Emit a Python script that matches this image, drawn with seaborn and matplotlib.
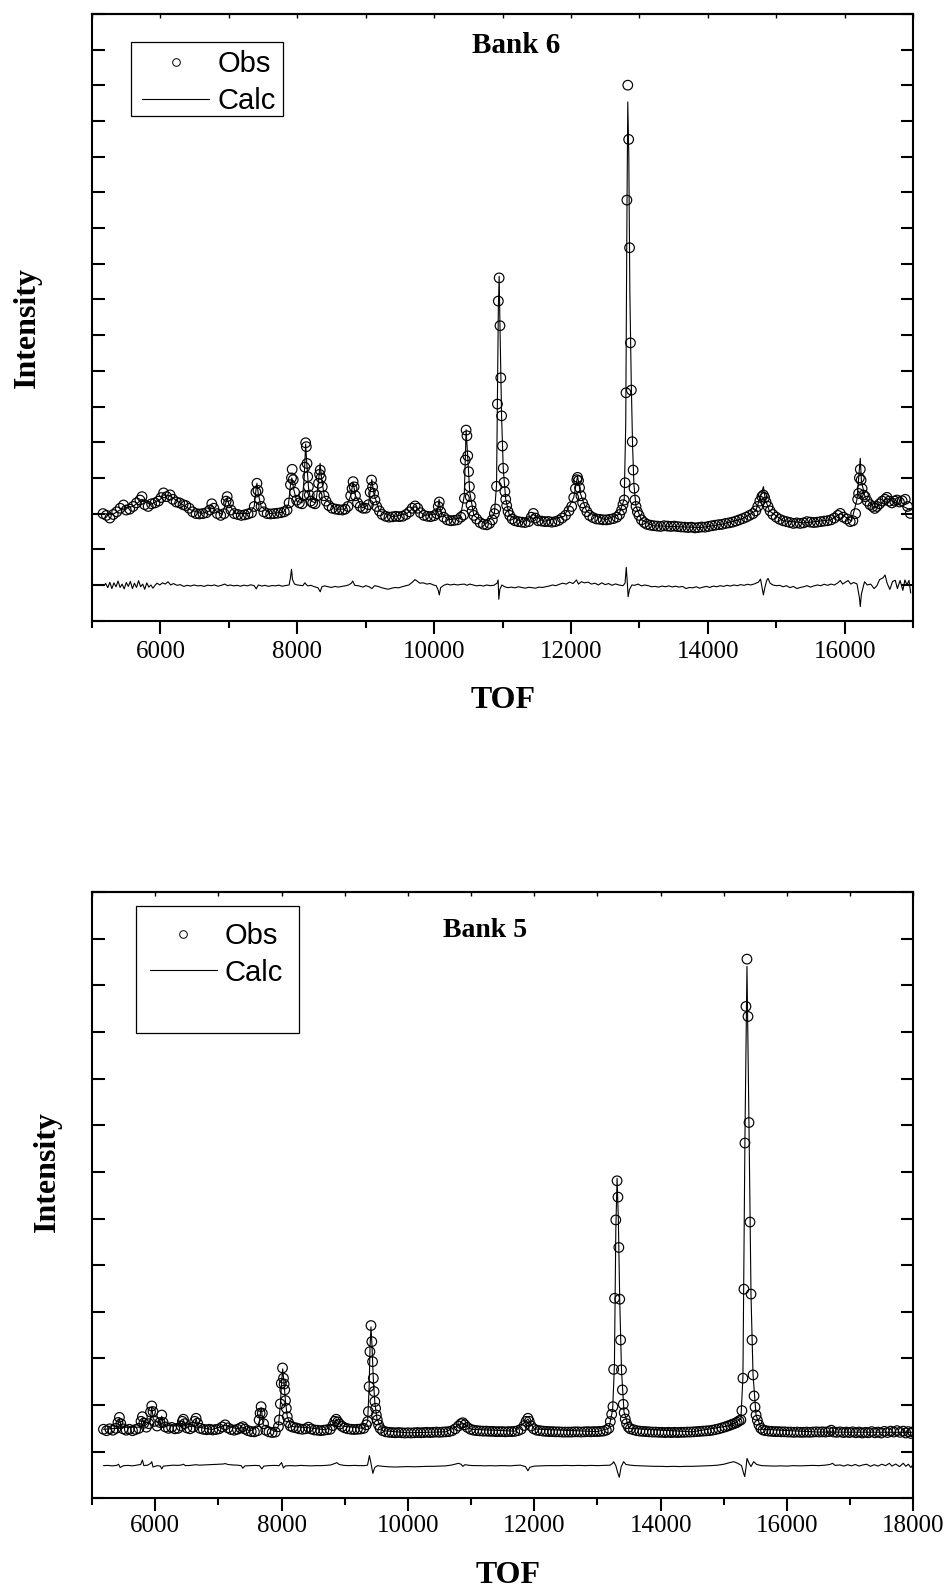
import pandas as pd
import matplotlib
matplotlib.use('Agg')
import matplotlib.pyplot as plt
from matplotlib.lines import Line2D
from matplotlib.patches import Rectangle
from matplotlib.ticker import MultipleLocator
import seaborn as sns

sns.set_style('ticks', {'axes.edgecolor': 'black', 'xtick.color': 'black', 'ytick.color': 'black',
                        'text.color': 'black', 'axes.labelcolor': 'black'})
plt.rcParams['font.family'] = ['Liberation Serif', 'DejaVu Serif']

# ---------------- Bank 6 (top panel) ----------------
tof6 = [5160, 5210, 5260, 5310, 5360, 5410, 5460, 5500, 5550, 5600,
        5650, 5700, 5730, 5770, 5820, 5870, 5920, 5970, 6010, 6045,
        6090, 6140, 6180, 6230, 6280, 6330, 6370, 6420, 6470, 6520,
        6570, 6620, 6670, 6720, 6750, 6780, 6830, 6880, 6930, 6960,
        6975, 6995, 7030, 7080, 7130, 7180, 7230, 7280, 7330, 7370,
        7395, 7410, 7425, 7445, 7470, 7510, 7560, 7610, 7660, 7710,
        7760, 7810, 7850, 7880, 7900, 7915, 7925, 7940, 7960, 7990,
        8030, 8070, 8095, 8110, 8122, 8132, 8142, 8152, 8162, 8175,
        8195, 8225, 8260, 8290, 8310, 8325, 8335, 8348, 8365, 8390,
        8420, 8460, 8510, 8560, 8610, 8660, 8700, 8740, 8780, 8800,
        8815, 8830, 8850, 8880, 8920, 8960, 9000, 9040, 9065, 9085,
        9100, 9115, 9135, 9160, 9200, 9240, 9290, 9340, 9390, 9440,
        9490, 9540, 9590, 9640, 9680, 9722, 9760, 9800, 9850, 9900,
        9950, 10000, 10040, 10060, 10075, 10095, 10140, 10190, 10240, 10290,
        10340, 10390, 10430, 10443, 10455, 10467, 10479, 10491, 10503, 10515,
        10527, 10539, 10555, 10580, 10620, 10670, 10720, 10770, 10810, 10850,
        10880, 10900, 10912, 10925, 10938, 10950, 10962, 10974, 10986, 10998,
        11010, 11022, 11034, 11046, 11060, 11080, 11105, 11140, 11180, 11230,
        11280, 11330, 11380, 11420, 11450, 11480, 11520, 11570, 11620, 11670,
        11720, 11770, 11820, 11870, 11920, 11970, 12010, 12040, 12065, 12085,
        12096, 12110, 12125, 12145, 12170, 12200, 12232, 12270, 12320, 12370,
        12420, 12470, 12520, 12570, 12620, 12670, 12710, 12740, 12760, 12778,
        12791, 12804, 12817, 12830, 12843, 12856, 12869, 12882, 12895, 12908,
        12921, 12934, 12950, 12970, 12995, 13030, 13070, 13110, 13160, 13210,
        13260, 13310, 13360, 13410, 13460, 13510, 13560, 13610, 13660, 13710,
        13760, 13810, 13860, 13910, 13960, 14010, 14060, 14110, 14160, 14210,
        14260, 14310, 14360, 14410, 14460, 14510, 14560, 14610, 14660, 14700,
        14730, 14760, 14790, 14812, 14830, 14850, 14880, 14910, 14950, 15000,
        15050, 15100, 15150, 15200, 15250, 15300, 15350, 15400, 15450, 15500,
        15550, 15600, 15650, 15700, 15750, 15800, 15850, 15900, 15936, 15980,
        16030, 16081, 16120, 16160, 16190, 16203, 16215, 16228, 16240, 16255,
        16275, 16300, 16330, 16370, 16410, 16440, 16471, 16510, 16550, 16590,
        16618, 16650, 16690, 16730, 16764, 16800, 16840, 16885, 16920, 16959]
obs6 = [600, 590, 575, 595, 610, 630, 648, 620, 625, 640,
        660, 676, 695, 650, 640, 655, 660, 670, 690, 716,
        695, 705, 680, 665, 660, 650, 645, 630, 610, 600,
        598, 600, 605, 620, 655, 630, 600, 590, 600, 670,
        695, 660, 620, 600, 595, 590, 593, 598, 605, 640,
        720, 770, 730, 680, 640, 610, 600, 598, 600, 602,
        605, 610, 620, 660, 762, 800, 848, 790, 720, 675,
        660, 655, 700, 860, 997, 975, 881, 807, 750, 704,
        670, 660, 655, 700, 770, 820, 844, 800, 750, 700,
        670, 645, 630, 625, 622, 620, 625, 640, 700, 740,
        779, 750, 700, 660, 640, 630, 630, 650, 720, 788,
        750, 713, 676, 640, 615, 595, 585, 580, 582, 585,
        583, 585, 595, 610, 630, 643, 630, 605, 590, 585,
        583, 588, 600, 640, 665, 610, 580, 565, 560, 562,
        565, 580, 592, 686, 900, 1068, 1036, 924, 835, 751,
        695, 648, 615, 590, 570, 550, 540, 537, 545, 565,
        600, 626, 753, 1214, 1791, 1921, 1653, 1361, 1148, 979,
        854, 775, 723, 680, 645, 612, 590, 570, 560, 555,
        552, 550, 555, 580, 601, 575, 560, 558, 555, 556,
        552, 555, 562, 575, 590, 615, 640, 690, 740, 790,
        803, 785, 745, 700, 660, 635, 611, 590, 578, 570,
        568, 565, 565, 568, 572, 580, 595, 620, 650, 676,
        773, 1277, 2357, 3001, 2697, 2090, 1557, 1292, 1003, 844,
        742, 676, 640, 610, 590, 565, 550, 540, 535, 532,
        530, 528, 532, 530, 528, 530, 527, 525, 524, 522,
        524, 520, 522, 525, 524, 528, 532, 535, 538, 540,
        545, 548, 552, 558, 565, 572, 580, 590, 600, 615,
        640, 670, 695, 704, 690, 665, 640, 615, 595, 580,
        568, 560, 555, 550, 545, 548, 545, 548, 555, 552,
        550, 552, 555, 558, 560, 565, 575, 590, 601, 580,
        570, 555, 560, 600, 680, 713, 800, 848, 788, 740,
        704, 695, 670, 650, 640, 629, 640, 655, 670, 680,
        691, 670, 660, 670, 676, 665, 672, 680, 640, 601]

calc6_tof = [5160, 5300, 5450, 5600, 5730, 5850, 6000, 6045, 6140, 6300,
             6450, 6600, 6720, 6750, 6790, 6900, 6960, 6975, 7000, 7100,
             7300, 7370, 7395, 7410, 7430, 7470, 7600, 7800, 7870, 7900,
             7920, 7945, 7990, 8070, 8100, 8122, 8140, 8165, 8200, 8270,
             8310, 8333, 8355, 8400, 8550, 8700, 8780, 8815, 8850, 8950,
             9040, 9088, 9120, 9200, 9400, 9600, 9722, 9850, 10040, 10072,
             10095, 10200, 10380, 10440, 10467, 10490, 10520, 10580, 10750, 10880,
             10912, 10938, 10950, 10962, 10986, 11010, 11046, 11100, 11300, 11450,
             11600, 11900, 12040, 12096, 12140, 12232, 12500, 12700, 12778, 12800,
             12818, 12830, 12845, 12860, 12880, 12900, 12920, 12950, 13030, 13200,
             13600, 13900, 14200, 14500, 14700, 14790, 14812, 14840, 14900, 15100,
             15400, 15800, 15936, 16100, 16180, 16215, 16228, 16245, 16300, 16440,
             16618, 16960]
calc6 = [600, 595, 630, 640, 680, 650, 680, 705, 700, 655,
         620, 600, 615, 650, 620, 595, 665, 690, 650, 600,
         600, 640, 730, 770, 710, 640, 600, 608, 650, 760,
         800, 740, 670, 660, 800, 990, 870, 740, 670, 660,
         780, 882, 790, 690, 625, 625, 700, 775, 700, 632,
         650, 790, 710, 615, 582, 600, 640, 590, 598, 680,
         610, 565, 575, 700, 1070, 920, 720, 590, 540, 600,
         760, 1750, 1930, 1650, 1140, 850, 680, 590, 550, 595,
         556, 585, 690, 810, 710, 610, 565, 595, 680, 1100,
         2300, 2907, 2600, 1850, 1350, 980, 760, 640, 565, 532,
         526, 522, 540, 570, 615, 720, 751, 680, 615, 560,
         548, 565, 600, 558, 680, 850, 910, 780, 690, 630,
         685, 620]

diff6_tof = [5170, 5200, 5230, 5260, 5290, 5320, 5350, 5380, 5410, 5440,
             5470, 5500, 5530, 5560, 5590, 5620, 5650, 5680, 5710, 5740,
             5770, 5800, 5830, 5860, 5890, 5920, 5950, 5990, 6030, 6070,
             6110, 6150, 6190, 6240, 6290, 6340, 6390, 6440, 6490, 6540,
             6590, 6640, 6690, 6740, 6790, 6840, 6890, 6940, 6980, 7020,
             7070, 7120, 7170, 7220, 7270, 7320, 7370, 7400, 7430, 7480,
             7530, 7580, 7630, 7680, 7730, 7780, 7830, 7880, 7900, 7915,
             7930, 7960, 8000, 8040, 8080, 8110, 8125, 8150, 8200, 8250,
             8300, 8335, 8360, 8400, 8450, 8500, 8550, 8600, 8650, 8700,
             8750, 8790, 8810, 8840, 8900, 8960, 9000, 9050, 9090, 9130,
             9180, 9230, 9280, 9330, 9380, 9430, 9480, 9530, 9580, 9630,
             9680, 9720, 9750, 9790, 9840, 9890, 9940, 9990, 10030, 10060,
             10075, 10095, 10140, 10190, 10240, 10290, 10340, 10390, 10440, 10480,
             10520, 10570, 10620, 10670, 10720, 10770, 10820, 10870, 10920, 10935,
             10945, 10960, 10990, 11030, 11080, 11130, 11180, 11230, 11280, 11330,
             11380, 11430, 11480, 11530, 11580, 11630, 11680, 11730, 11780, 11830,
             11880, 11930, 11980, 12030, 12080, 12110, 12150, 12200, 12250, 12300,
             12350, 12400, 12450, 12500, 12550, 12600, 12650, 12700, 12760, 12790,
             12808, 12822, 12835, 12855, 12890, 12930, 12980, 13030, 13080, 13130,
             13180, 13230, 13280, 13330, 13380, 13430, 13480, 13530, 13580, 13630,
             13680, 13730, 13780, 13830, 13880, 13930, 13980, 14030, 14080, 14130,
             14180, 14230, 14280, 14330, 14380, 14430, 14480, 14530, 14580, 14630,
             14680, 14740, 14770, 14790, 14812, 14830, 14860, 14880, 14910, 14950,
             15000, 15050, 15100, 15150, 15200, 15250, 15300, 15350, 15400, 15450,
             15500, 15550, 15600, 15650, 15700, 15750, 15800, 15850, 15900, 15936,
             15970, 16010, 16050, 16090, 16130, 16180, 16215, 16228, 16245, 16290,
             16330, 16380, 16430, 16470, 16510, 16560, 16590, 16620, 16660, 16700,
             16740, 16770, 16810, 16850, 16880, 16910, 16940, 16965]
diff6 = [196, 208, 185, 215, 180, 212, 190, 222, 186, 205,
         178, 214, 192, 220, 180, 210, 186, 224, 190, 205,
         176, 212, 188, 200, 182, 198, 210, 200, 212, 205,
         218, 200, 208, 198, 202, 192, 198, 194, 200, 195,
         197, 192, 199, 196, 200, 193, 198, 205, 196, 200,
         195, 198, 193, 199, 195, 201, 196, 178, 200, 194,
         198, 192, 197, 195, 199, 193, 197, 200, 240, 288,
         230, 205, 200, 198, 196, 212, 205, 195, 198, 190,
         185, 162, 190, 195, 190, 186, 192, 188, 192, 195,
         200, 210, 222, 198, 195, 188, 196, 190, 180, 196,
         192, 185, 180, 176, 182, 186, 184, 190, 195, 200,
         215, 230, 222, 210, 212, 205, 208, 200, 196, 170,
         144, 185, 198, 205, 200, 204, 200, 203, 205, 198,
         205, 200, 195, 198, 194, 200, 196, 198, 210, 228,
         120, 175, 200, 190, 185, 188, 184, 190, 186, 182,
         187, 185, 182, 188, 186, 190, 194, 200, 196, 204,
         210, 205, 216, 208, 228, 205, 218, 212, 216, 205,
         210, 200, 212, 202, 208, 198, 206, 200, 196, 210,
         299, 220, 134, 175, 200, 198, 205, 195, 200, 196,
         190, 192, 188, 194, 190, 195, 189, 193, 188, 192,
         180, 186, 184, 190, 182, 188, 192, 186, 194, 190,
         196, 192, 198, 194, 200, 196, 202, 198, 204, 200,
         206, 216, 233, 190, 144, 180, 225, 237, 210, 200,
         196, 198, 190, 196, 185, 192, 180, 186, 190, 196,
         188, 195, 200, 196, 204, 198, 205, 200, 212, 225,
         205, 215, 225, 205, 214, 206, 130, 79, 150, 218,
         200, 205, 180, 195, 230, 240, 256, 210, 175, 220,
         226, 180, 225, 170, 228, 200, 226, 155]

# ---------------- Bank 5 (bottom panel) ----------------
tof5 = [5180, 5230, 5280, 5330, 5380, 5410, 5433, 5455, 5490, 5540,
        5590, 5640, 5690, 5740, 5775, 5797, 5820, 5860, 5900, 5925,
        5945, 5965, 5990, 6030, 6075, 6103, 6125, 6160, 6210, 6260,
        6310, 6360, 6410, 6430, 6446, 6465, 6500, 6550, 6600, 6625,
        6647, 6670, 6710, 6760, 6810, 6860, 6910, 6960, 7010, 7060,
        7106, 7150, 7200, 7250, 7300, 7350, 7386, 7420, 7470, 7520,
        7570, 7620, 7645, 7660, 7676, 7695, 7715, 7750, 7800, 7850,
        7900, 7950, 7965, 7980, 7995, 8015, 8030, 8040, 8050, 8062,
        8075, 8090, 8110, 8140, 8180, 8230, 8280, 8330, 8380, 8425,
        8470, 8520, 8570, 8620, 8670, 8720, 8770, 8810, 8840, 8864,
        8890, 8920, 8960, 9000, 9050, 9100, 9150, 9200, 9250, 9300,
        9340, 9362, 9374, 9386, 9398, 9415, 9428, 9440, 9452, 9464,
        9476, 9488, 9500, 9515, 9535, 9560, 9600, 9650, 9700, 9750,
        9800, 9850, 9900, 9950, 10000, 10050, 10100, 10150, 10200, 10250,
        10300, 10350, 10400, 10450, 10500, 10550, 10600, 10650, 10700, 10750,
        10800, 10840, 10869, 10900, 10940, 10990, 11040, 11090, 11140, 11190,
        11240, 11290, 11340, 11390, 11440, 11490, 11540, 11590, 11640, 11690,
        11740, 11790, 11840, 11870, 11899, 11920, 11950, 11990, 12040, 12090,
        12140, 12190, 12240, 12290, 12340, 12390, 12440, 12490, 12540, 12590,
        12640, 12690, 12740, 12790, 12840, 12890, 12940, 12990, 13040, 13090,
        13140, 13180, 13203, 13225, 13245, 13256, 13271, 13290, 13310, 13324,
        13338, 13352, 13366, 13380, 13394, 13408, 13422, 13440, 13460, 13490,
        13520, 13570, 13620, 13670, 13720, 13770, 13820, 13870, 13920, 13970,
        14020, 14070, 14120, 14170, 14220, 14270, 14320, 14370, 14420, 14470,
        14520, 14570, 14620, 14670, 14720, 14770, 14820, 14870, 14920, 14970,
        15020, 15060, 15103, 15140, 15180, 15210, 15240, 15270, 15286, 15302,
        15318, 15334, 15350, 15366, 15382, 15398, 15414, 15430, 15446, 15462,
        15478, 15494, 15510, 15530, 15555, 15585, 15620, 15660, 15710, 15760,
        15810, 15860, 15910, 15960, 16010, 16060, 16110, 16160, 16210, 16260,
        16310, 16360, 16410, 16460, 16510, 16560, 16610, 16660, 16700, 16740,
        16790, 16840, 16890, 16940, 16990, 17040, 17090, 17140, 17190, 17240,
        17290, 17340, 17390, 17440, 17490, 17540, 17590, 17640, 17690, 17740,
        17790, 17840, 17880, 17920, 17960, 17990]
obs5 = [296, 290, 298, 292, 300, 325, 347, 320, 298, 292,
        296, 290, 295, 300, 330, 350, 322, 305, 320, 370,
        396, 372, 330, 310, 325, 357, 325, 306, 300, 304,
        298, 300, 310, 330, 339, 320, 302, 298, 305, 330,
        343, 322, 300, 296, 294, 296, 293, 295, 298, 306,
        315, 302, 295, 292, 296, 302, 307, 297, 290, 286,
        285, 290, 336, 365, 393, 365, 320, 292, 285, 282,
        284, 307, 336, 405, 493, 559, 515, 490, 465, 419,
        386, 350, 325, 310, 305, 302, 298, 296, 298, 305,
        297, 293, 292, 290, 292, 294, 296, 312, 330, 339,
        328, 318, 308, 302, 298, 296, 295, 296, 297, 300,
        315, 329, 372, 479, 629, 741, 672, 586, 515, 458,
        415, 386, 357, 336, 315, 300, 290, 285, 283, 282,
        281, 282, 281, 280, 281, 280, 281, 282, 281, 282,
        283, 282, 283, 284, 283, 284, 285, 286, 290, 298,
        310, 320, 324, 315, 304, 296, 292, 290, 289, 288,
        288, 287, 287, 286, 286, 286, 285, 286, 286, 287,
        290, 296, 312, 330, 343, 330, 310, 298, 292, 290,
        288, 287, 286, 286, 285, 285, 284, 284, 284, 284,
        285, 285, 284, 285, 286, 285, 286, 286, 287, 288,
        292, 300, 329, 360, 393, 553, 858, 1194, 1362, 1292,
        1076, 854, 679, 551, 465, 403, 367, 340, 320, 305,
        298, 294, 290, 288, 287, 286, 285, 284, 284, 283,
        283, 282, 283, 282, 283, 282, 283, 283, 284, 284,
        285, 286, 287, 288, 289, 290, 292, 295, 298, 302,
        306, 310, 314, 318, 322, 326, 332, 336, 376, 515,
        897, 1524, 2110, 2313, 2067, 1612, 1185, 876, 679, 529,
        439, 391, 357, 335, 315, 300, 293, 290, 288, 287,
        286, 286, 285, 285, 284, 284, 283, 284, 283, 283,
        284, 283, 284, 285, 284, 285, 284, 286, 292, 284,
        283, 285, 282, 284, 282, 285, 281, 284, 280, 283,
        281, 286, 281, 284, 280, 287, 282, 288, 284, 290,
        283, 288, 280, 286, 278, 285]

calc5_tof = [5180, 5400, 5433, 5460, 5770, 5797, 5830, 5920, 5945, 5970,
             6080, 6103, 6130, 6420, 6446, 6480, 6620, 6647, 6680, 6900,
             7106, 7300, 7386, 7500, 7640, 7676, 7710, 7900, 7950, 7980,
             8000, 8017, 8035, 8060, 8090, 8150, 8425, 8700, 8840, 8864,
             8950, 9300, 9362, 9386, 9400, 9415, 9430, 9452, 9476, 9510,
             9600, 10000, 10600, 10869, 11000, 11700, 11899, 12000, 13000, 13180,
             13240, 13268, 13290, 13310, 13330, 13352, 13380, 13420, 13500, 14500,
             15103, 15270, 15302, 15334, 15366, 15398, 15430, 15462, 15510, 15600,
             16500, 18000]
calc5 = [296, 300, 345, 305, 305, 345, 310, 330, 392, 340,
         315, 352, 312, 310, 336, 305, 310, 340, 305, 295,
         312, 298, 305, 288, 310, 390, 315, 286, 310, 400,
         500, 555, 505, 420, 350, 308, 303, 293, 325, 340,
         310, 300, 330, 480, 650, 735, 660, 510, 410, 340,
         290, 281, 285, 322, 296, 288, 340, 297, 286, 300,
         380, 570, 1150, 1373, 1200, 850, 550, 370, 300, 285,
         312, 340, 520, 1550, 2282, 1600, 870, 530, 355, 296,
         284, 283]

diff5_tof = [5180, 5250, 5320, 5390, 5420, 5445, 5500, 5570, 5640, 5710,
             5770, 5797, 5820, 5880, 5930, 5945, 5965, 6030, 6080, 6103,
             6130, 6200, 6280, 6360, 6420, 6446, 6480, 6560, 6640, 6700,
             6780, 6860, 6940, 7020, 7080, 7106, 7150, 7220, 7300, 7360,
             7386, 7420, 7500, 7580, 7650, 7687, 7720, 7800, 7880, 7960,
             8000, 8030, 8060, 8140, 8220, 8300, 8380, 8460, 8540, 8620,
             8700, 8780, 8850, 8874, 8910, 8990, 9070, 9150, 9230, 9310,
             9360, 9390, 9415, 9444, 9475, 9520, 9600, 9700, 9800, 9900,
             10000, 10100, 10200, 10300, 10400, 10500, 10600, 10700, 10800, 10840,
             10869, 10900, 10980, 11060, 11140, 11220, 11300, 11380, 11460, 11540,
             11620, 11700, 11780, 11860, 11899, 11930, 12000, 12100, 12200, 12300,
             12400, 12500, 12600, 12700, 12800, 12900, 13000, 13100, 13200, 13240,
             13256, 13290, 13320, 13345, 13375, 13414, 13450, 13520, 13600, 13700,
             13800, 13900, 14000, 14100, 14200, 14300, 14400, 14500, 14600, 14700,
             14800, 14900, 15000, 15080, 15156, 15220, 15280, 15310, 15330, 15350,
             15367, 15400, 15430, 15472, 15520, 15600, 15700, 15800, 15900, 16000,
             16100, 16200, 16300, 16400, 16500, 16600, 16680, 16720, 16760, 16840,
             16900, 16960, 17020, 17080, 17140, 17200, 17260, 17320, 17380, 17440,
             17500, 17560, 17620, 17660, 17720, 17780, 17840, 17880, 17920, 17960,
             17990]
diff5 = [140, 141, 139, 141, 146, 132, 140, 141, 139, 142,
         145, 164, 140, 142, 150, 157, 134, 140, 138, 126,
         138, 140, 142, 141, 143, 146, 140, 141, 144, 142,
         143, 144, 145, 146, 147, 149, 145, 143, 142, 140,
         129, 139, 140, 141, 140, 126, 138, 140, 141, 140,
         153, 130, 139, 140, 139, 141, 140, 139, 140, 140,
         141, 143, 150, 153, 145, 141, 140, 141, 140, 140,
         142, 183, 150, 107, 132, 140, 137, 135, 134, 135,
         136, 135, 136, 137, 137, 138, 139, 143, 150, 146,
         137, 144, 141, 140, 140, 139, 140, 139, 140, 140,
         139, 141, 142, 136, 118, 133, 138, 139, 140, 140,
         140, 141, 140, 141, 140, 141, 140, 141, 142, 150,
         157, 140, 110, 90, 135, 157, 145, 142, 140, 139,
         138, 137, 137, 136, 137, 136, 137, 137, 138, 139,
         140, 142, 146, 152, 157, 150, 140, 110, 93, 130,
         171, 150, 136, 157, 145, 140, 139, 138, 139, 138,
         140, 139, 140, 141, 140, 142, 145, 150, 141, 143,
         138, 144, 139, 145, 138, 143, 146, 137, 144, 138,
         146, 140, 150, 138, 147, 136, 150, 137, 146, 132,
         143]


def draw_bank(ax, obs_df, calc_df, diff_df, xmax, ymax, title, title_pos, title_size,
              leg_anchor, leg_box, leg_spacing, tick_pad, xlabel_pos, ylabel_pos):
    sns.lineplot(data=calc_df, x='TOF', y='I', ax=ax, color='black', lw=0.8,
                 estimator=None, sort=False, zorder=2)
    sns.scatterplot(data=obs_df, x='TOF', y='I', ax=ax, marker='o', s=48,
                    facecolors='none', edgecolor='black', linewidth=0.85, zorder=3)
    sns.lineplot(data=diff_df, x='TOF', y='I', ax=ax, color='black', lw=0.8,
                 estimator=None, sort=False, zorder=2)

    ax.set_xlim(5000, xmax)
    ax.set_ylim(0, ymax)
    ax.xaxis.set_major_locator(MultipleLocator(2000))
    ax.xaxis.set_minor_locator(MultipleLocator(1000))
    ax.yaxis.set_major_locator(MultipleLocator(200))
    ax.tick_params(axis='x', which='major', direction='out', length=9, width=1.5,
                   labelsize=18, pad=tick_pad, top=False, labelcolor='black')
    ax.tick_params(axis='x', which='minor', direction='out', length=5, width=1.5, top=False)
    ax.tick_params(axis='y', which='major', direction='in', length=9, width=1.5,
                   left=True, right=True, labelleft=False)
    for sp in ax.spines.values():
        sp.set_linewidth(1.5)
        sp.set_color('black')
    # small inward ticks on the top frame
    top = ax.secondary_xaxis('top')
    top.xaxis.set_major_locator(MultipleLocator(1000))
    top.tick_params(direction='in', length=3, width=1, labeltop=False)
    top.spines['top'].set_linewidth(1.5)

    ax.set_xlabel('TOF', fontsize=23, fontweight='bold', color='black')
    ax.set_ylabel('Intensity', fontsize=23, fontweight='bold', color='black')
    ax.xaxis.set_label_coords(*xlabel_pos)
    ax.xaxis.label.set_va('center')
    ax.yaxis.set_label_coords(*ylabel_pos)
    ax.yaxis.label.set_va('center')

    ax.text(title_pos[0], title_pos[1], title, transform=ax.transAxes, ha='center',
            va='center', fontsize=title_size, fontweight='bold', color='black')

    handles = [Line2D([], [], marker='o', ls='none', mfc='none', mec='black', ms=5.5, mew=0.7),
               Line2D([], [], color='black', lw=0.8)]
    leg = ax.legend(handles, ['Obs', 'Calc'], loc='upper left', bbox_to_anchor=leg_anchor,
                    frameon=False, prop={'family': 'Liberation Sans', 'size': 21},
                    handlelength=2.3, handletextpad=0.28, labelspacing=leg_spacing,
                    borderpad=0, borderaxespad=0)
    for t in leg.get_texts():
        t.set_color('black')
    ax.add_patch(Rectangle(leg_box[:2], leg_box[2], leg_box[3], transform=ax.transAxes,
                           fill=False, lw=0.9, edgecolor='black', zorder=5))


fig = plt.figure(figsize=(9.47, 15.89), dpi=100)
ax1 = fig.add_axes([0.0972, 0.6094, 0.8670, 0.3818])
ax2 = fig.add_axes([0.0972, 0.0571, 0.8673, 0.3814])

obs6_df = pd.DataFrame({'TOF': tof6, 'I': obs6})
calc6_df = pd.DataFrame({'TOF': calc6_tof, 'I': calc6})
diff6_df = pd.DataFrame({'TOF': diff6_tof, 'I': diff6})
obs5_df = pd.DataFrame({'TOF': tof5, 'I': obs5})
calc5_df = pd.DataFrame({'TOF': calc5_tof, 'I': calc5})
diff5_df = pd.DataFrame({'TOF': diff5_tof, 'I': diff5})

draw_bank(ax1, obs6_df, calc6_df, diff6_df, 17000, 3400, 'Bank 6', (0.516, 0.948), 21,
          (0.061, 0.940), (0.0471, 0.8319, 0.1851, 0.1215), 0.3, 6,
          (0.501, -0.131), (-0.079, 0.483))
draw_bank(ax2, obs5_df, calc5_df, diff5_df, 18000, 2600, 'Bank 5', (0.478, 0.937), 20,
          (0.070, 0.951), (0.0532, 0.7683, 0.1988, 0.2096), 0.3, 3,
          (0.507, -0.127), (-0.054, 0.54))

fig.savefig('out.png', dpi=100)
